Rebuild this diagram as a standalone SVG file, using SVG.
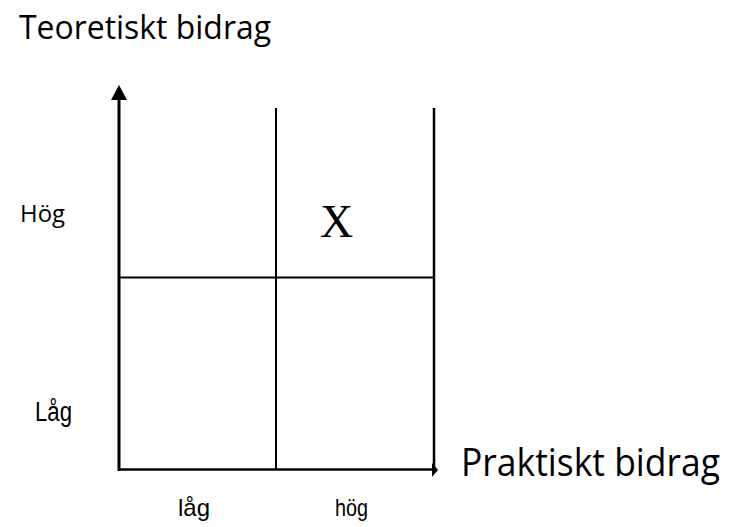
<svg xmlns="http://www.w3.org/2000/svg" width="732" height="527" viewBox="0 0 732 527">
<style>
.ln{stroke:#000;fill:none}
.lbl{font-family:"Open Sans","Liberation Sans",sans-serif;fill:#000}
.nar{font-family:"Liberation Sans Narrow","Liberation Sans","Open Sans",sans-serif;fill:#000}
.x{font-family:"Liberation Serif","Times New Roman",serif;fill:#000}
</style>
<rect width="732" height="527" fill="#fff"/>
<g id="connectors">
<line class="ln" x1="119" y1="471" x2="119" y2="98" stroke-width="3"/>
<polygon points="119,85 111,100 127,100" fill="#000"/>
<line class="ln" x1="118" y1="469.5" x2="433" y2="469.5" stroke-width="2.5"/>
<polygon points="432,463 438,470 432,477" fill="#000"/>
<line class="ln" x1="119" y1="277.5" x2="434" y2="277.5" stroke-width="2"/>
<line class="ln" x1="276" y1="108" x2="276" y2="469" stroke-width="2"/>
<line class="ln" x1="434" y1="108" x2="434" y2="469" stroke-width="2.5"/>
</g>
<g id="y-axis-title"><text class="lbl" x="19" y="39" font-size="33" textLength="252" lengthAdjust="spacingAndGlyphs">Teoretiskt bidrag</text></g>
<g id="x-axis-title"><text class="lbl" x="461" y="476" font-size="39" textLength="259" lengthAdjust="spacingAndGlyphs">Praktiskt bidrag</text></g>
<g id="y-high"><text class="lbl" x="20" y="222" font-size="24" textLength="45" lengthAdjust="spacingAndGlyphs">Hög</text></g>
<g id="y-low"><text class="nar" x="35" y="421" font-size="27" textLength="37" lengthAdjust="spacingAndGlyphs">Låg</text></g>
<g id="x-low"><text class="nar" x="178" y="516" font-size="24" textLength="32" lengthAdjust="spacingAndGlyphs">låg</text></g>
<g id="x-high"><text class="nar" x="335" y="516" font-size="24" textLength="33" lengthAdjust="spacingAndGlyphs">hög</text></g>
<g id="mark"><text class="x" x="320" y="237" font-size="46">X</text></g>
</svg>
